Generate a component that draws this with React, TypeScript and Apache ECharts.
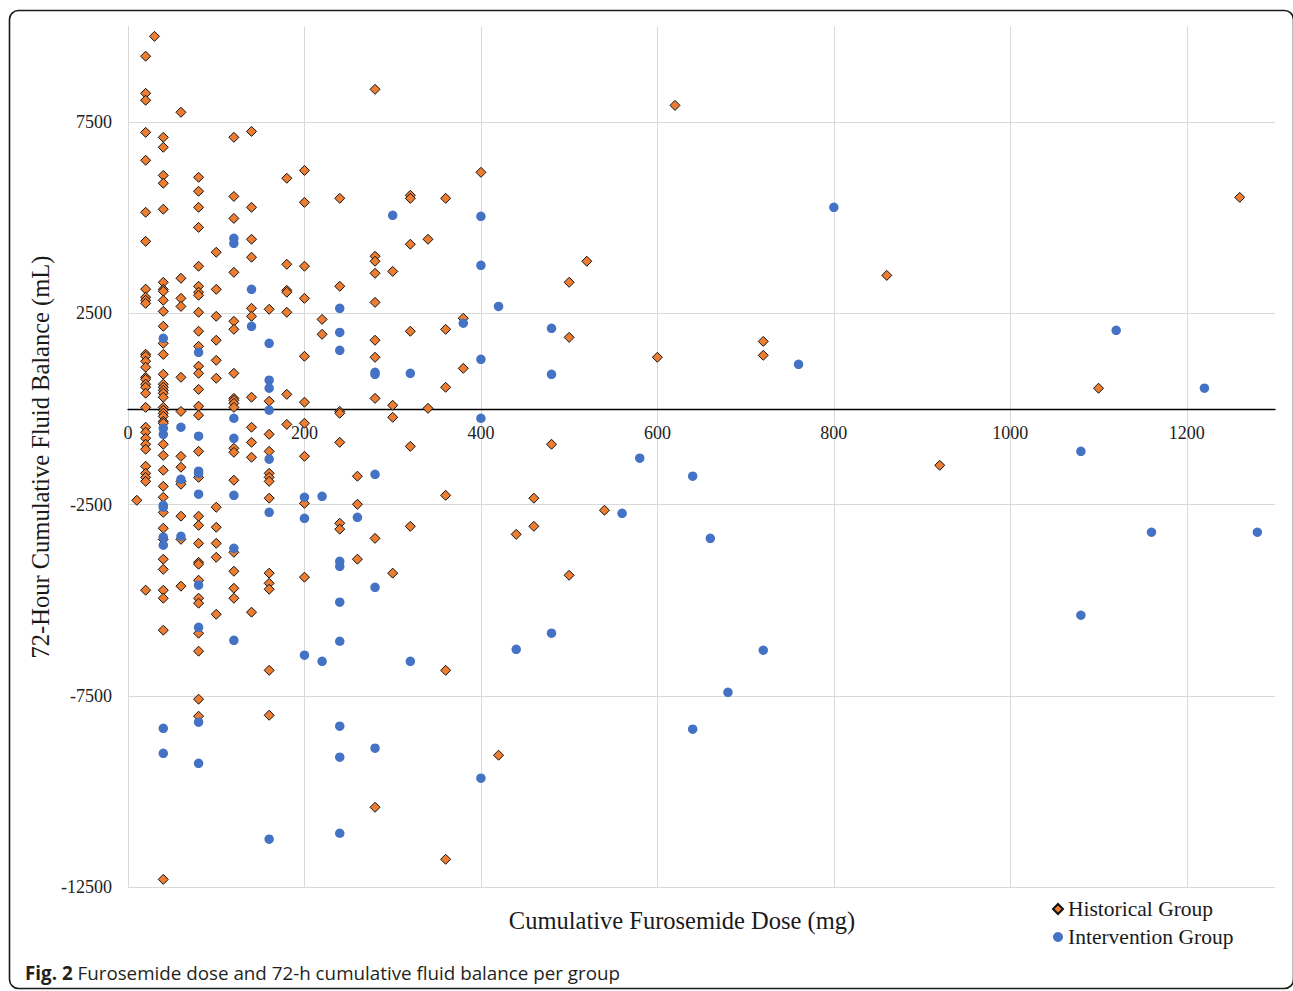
import React, { useEffect, useRef } from "react";
import * as echarts from "echarts";

// [cumulative furosemide dose (mg), 72-h cumulative fluid balance (mL)]
const historicalPoints: [number, number][] = [
  [10, -2390],
  [20, 9220], [20, 8250], [20, 8070], [20, 7230], [20, 6500], [20, 5140], [20, 4380], [20, 3130], [20, 2920], [20, 2840], [20, 2760],
  [20, 1430], [20, 1375], [20, 1245], [20, 1090], [20, 825], [20, 775], [20, 645], [20, 565], [20, 410], [20, 40], [20, -480], [20, -610],
  [20, -770], [20, -925], [20, -1055], [20, -1500], [20, -1685], [20, -1790], [20, -1895], [20, -4740],
  [30, 9740],
  [40, 7100], [40, 6840], [40, 6105], [40, 5900], [40, 5220], [40, 3310], [40, 3125], [40, 3075], [40, 2840], [40, 2550], [40, 2160],
  [40, 1715], [40, 1425], [40, 905], [40, 645], [40, 565], [40, 485], [40, 410], [40, 305], [40, 40], [40, -35], [40, -115], [40, -195],
  [40, -325], [40, -375], [40, -925], [40, -1215], [40, -1605], [40, -2025], [40, -2310], [40, -2705], [40, -3120], [40, -3410], [40, -3930],
  [40, -4195], [40, -4740], [40, -4950], [40, -5785], [40, -12300],
  [60, 7755], [60, 3415], [60, 2890], [60, 2680], [60, 825], [60, -65], [60, -1240], [60, -1525], [60, -1895], [60, -1970], [60, -2805],
  [60, -3410], [60, -4635],
  [80, 6055], [80, 5690], [80, 5270], [80, 4745], [80, 3730], [80, 3205], [80, 3050], [80, 2970], [80, 2525], [80, 2030], [80, 1635],
  [80, 1115], [80, 930], [80, 510], [80, 70], [80, -165], [80, -1110], [80, -1790], [80, -2805], [80, -3045], [80, -3515], [80, -4010],
  [80, -4060], [80, -4480], [80, -4950], [80, -5080], [80, -5865], [80, -6335], [80, -7590], [80, -8035],
  [100, 4095], [100, 3125], [100, 2420], [100, 1795], [100, 1270], [100, 800], [100, -2570], [100, -3095], [100, -3515], [100, -3880], [100, -5370],
  [120, 7100], [120, 5555], [120, 4980], [120, 3570], [120, 2290], [120, 2080], [120, 930], [120, 275], [120, 225], [120, 145], [120, 40],
  [120, -1030], [120, -1135], [120, -1865], [120, -3750], [120, -4245], [120, -4690], [120, -4950],
  [140, 7255], [140, 5270], [140, 4435], [140, 3965], [140, 2630], [140, 2420], [140, 305], [140, -480], [140, -875], [140, -1265], [140, -5315],
  [160, 2605], [160, 200], [160, -665], [160, -1110], [160, -1685], [160, -1790], [160, -1895], [160, -2335], [160, -4295], [160, -4560],
  [160, -4715], [160, -6835], [160, -8010],
  [180, 6030], [180, 3780], [180, 3100], [180, 3050], [180, 2525], [180, 380], [180, -405],
  [200, 6235], [200, 5400], [200, 3730], [200, 2890], [200, 1375], [200, 175], [200, -375], [200, -1240], [200, -2470], [200, -4400],
  [220, 2340], [220, 1950],
  [240, 5505], [240, 3205], [240, -65], [240, -115], [240, -875], [240, -2990], [240, -3145],
  [260, -1760], [260, -2495], [260, -3930],
  [280, 8355], [280, 3990], [280, 3860], [280, 3545], [280, 2785], [280, 1795], [280, 1350], [280, 275], [280, -3385], [280, -10415],
  [300, 3595], [300, 95], [300, -220], [300, -4295],
  [320, 5585], [320, 5505], [320, 4305], [320, 2030], [320, -980], [320, -3070],
  [340, 4435], [340, 15],
  [360, 5505], [360, 2080], [360, 565], [360, -2260], [360, -6835], [360, -11775],
  [380, 2370], [380, 1060],
  [400, 6185],
  [420, -9055],
  [440, -3280],
  [460, -2335], [460, -3070],
  [480, -925],
  [500, 3310], [500, 1870], [500, -4350],
  [520, 3860],
  [540, -2650],
  [600, 1350],
  [620, 7935],
  [720, 1765], [720, 1400],
  [860, 3490],
  [920, -1475],
  [1100, 540],
  [1260, 5530],
];

const interventionPoints: [number, number][] = [
  [40, 1845], [40, -505], [40, -665], [40, -2520], [40, -2570], [40, -3355], [40, -3565], [40, -8350], [40, -9005],
  [60, -480], [60, -1840], [60, -3330],
  [80, 1480], [80, -715], [80, -1630], [80, -1685], [80, -2230], [80, -4610], [80, -5710], [80, -8190], [80, -9265],
  [120, 4460], [120, 4330], [120, -245], [120, -770], [120, -2260], [120, -3645], [120, -6050],
  [140, 3125], [140, 2160],
  [160, 1715], [160, 750], [160, 540], [160, -35], [160, -1315], [160, -2705], [160, -11250],
  [200, -2310], [200, -2860], [200, -6440],
  [220, -2285], [220, -6600],
  [240, 2630], [240, 2000], [240, 1530], [240, -3985], [240, -4115], [240, -5055], [240, -6075], [240, -8295], [240, -9105], [240, -11095],
  [260, -2835],
  [280, 955], [280, 905], [280, -1710], [280, -4665], [280, -8870],
  [300, 5060],
  [320, 930], [320, -6600],
  [380, 2240],
  [400, 5035], [400, 3755], [400, 1295], [400, -245], [400, -9655],
  [420, 2680],
  [440, -6285],
  [480, 2105], [480, 905], [480, -5865],
  [560, -2730],
  [580, -1290],
  [640, -1760], [640, -8375],
  [660, -3385],
  [680, -7410],
  [720, -6310],
  [760, 1165],
  [800, 5270],
  [1080, -1110], [1080, -5395],
  [1120, 2055],
  [1160, -3225],
  [1220, 540],
  [1280, -3225],
];

const seriesNames = ["Historical Group", "Intervention Group"];
const xAxisTitle = "Cumulative Furosemide Dose (mg)";
const yAxisTitle = "72-Hour Cumulative Fluid Balance (mL)";
const caption = "Furosemide dose and 72-h cumulative fluid balance per group";
const captionLabel = "Fig. 2";

const xRange = { min: 0, max: 1300, interval: 200 };
const yRange = { min: -12500, max: 10000, interval: 5000 };

const SERIF = "'Liberation Serif', 'DejaVu Serif', serif";
const SANS = "'Open Sans', 'Noto Sans', sans-serif";
const GRID = "#d9d9d9";

const W = 1293;
const H = 991;
const GRID_TOP = 26.4;
const GRID_BOTTOM = 104;
const GRID_LEFT = 128;
const GRID_RIGHT = 18;

export default function App() {
  const ref = useRef<HTMLDivElement>(null);

  useEffect(() => {
    if (!ref.current) return;
    const chart = echarts.init(ref.current, null, { renderer: "svg" });

    const xLineCount = Math.floor((xRange.max - xRange.min) / xRange.interval) + 2;
    const yLineCount = Math.floor((yRange.max - yRange.min) / yRange.interval) + 2;
    const xColors = Array.from({ length: xLineCount }, (_, i) => (i === xLineCount - 1 ? "rgba(0,0,0,0)" : GRID));
    const yColors = Array.from({ length: yLineCount }, (_, i) => (i === yLineCount - 1 ? "rgba(0,0,0,0)" : GRID));

    // place the x axis (line and labels) where the balance is zero
    const gridHeight = H - GRID_TOP - GRID_BOTTOM;
    const zeroOffset = -gridHeight * ((0 - yRange.min) / (yRange.max - yRange.min));

    const plain = (v: number) => String(v);

    chart.setOption({
      animation: false,
      backgroundColor: "#ffffff",
      grid: { left: GRID_LEFT, right: GRID_RIGHT, top: GRID_TOP, bottom: GRID_BOTTOM, containLabel: false },
      xAxis: {
        type: "value",
        min: xRange.min,
        max: xRange.max,
        interval: xRange.interval,
        position: "bottom",
        offset: zeroOffset,
        axisLine: { show: true, onZero: false, lineStyle: { color: "#000", width: 1.3 } },
        axisTick: { show: false },
        axisLabel: {
          showMaxLabel: false,
          margin: 15,
          fontFamily: SERIF,
          fontSize: 18,
          color: "#222",
          formatter: plain,
        },
        splitLine: { show: true, showMaxLine: false, lineStyle: { color: xColors, width: 1 } },
      },
      yAxis: {
        type: "value",
        min: yRange.min,
        max: yRange.max,
        interval: yRange.interval,
        axisLine: { show: true, onZero: false, lineStyle: { color: GRID, width: 1 } },
        axisTick: { show: false },
        axisLabel: {
          showMaxLabel: false,
          margin: 16,
          fontFamily: SERIF,
          fontSize: 18,
          color: "#222",
          formatter: plain,
        },
        splitLine: { show: true, showMaxLine: false, lineStyle: { color: yColors, width: 1 } },
      },
      legend: {
        orient: "vertical",
        left: 1047,
        top: 893,
        itemGap: 6,
        itemWidth: 10,
        itemHeight: 10,
        selectedMode: false,
        data: seriesNames,
        textStyle: { fontFamily: SERIF, fontSize: 21.5, color: "#1a1a1a" },
      },
      series: [
        {
          type: "scatter",
          name: seriesNames[0],
          data: historicalPoints,
          symbol: "diamond",
          symbolSize: 10,
          silent: true,
          itemStyle: { color: "#ED7D31", borderColor: "#111", borderWidth: 1, opacity: 1 },
        },
        {
          type: "scatter",
          name: seriesNames[1],
          data: interventionPoints,
          symbol: "circle",
          symbolSize: 9.5,
          silent: true,
          itemStyle: { color: "#4472C4", opacity: 1 },
        },
      ],
      graphic: [
        {
          type: "rect",
          silent: true,
          z: 100,
          shape: { x: 9.5, y: 10.5, width: 1284, height: 978, r: 9 },
          style: { fill: "none", stroke: "#1a1a1a", lineWidth: 1.6 },
        },
        {
          type: "text",
          silent: true,
          x: 682,
          y: 920,
          style: {
            text: xAxisTitle,
            font: `24.5px ${SERIF}`,
            fill: "#1a1a1a",
            textAlign: "center",
            textVerticalAlign: "middle",
          },
        },
        {
          type: "text",
          silent: true,
          x: 40,
          y: 457,
          rotation: Math.PI / 2,
          style: {
            text: yAxisTitle,
            font: `24.5px ${SERIF}`,
            fill: "#1a1a1a",
            textAlign: "center",
            textVerticalAlign: "middle",
          },
        },
        {
          type: "text",
          silent: true,
          x: 25,
          y: 973,
          style: {
            text: `{b|${captionLabel}} ${caption}`,
            font: `18.8px ${SANS}`,
            fill: "#231f20",
            textVerticalAlign: "middle",
            rich: {
              b: { fontFamily: SANS, fontSize: 18.8, fontWeight: "bold", fill: "#231f20" },
            },
          },
        },
      ],
    });

    return () => chart.dispose();
  }, []);

  return (
    <div
      ref={ref}
      style={{ position: "fixed", left: 0, top: 0, width: W, height: H, background: "#fff" }}
    />
  );
}
